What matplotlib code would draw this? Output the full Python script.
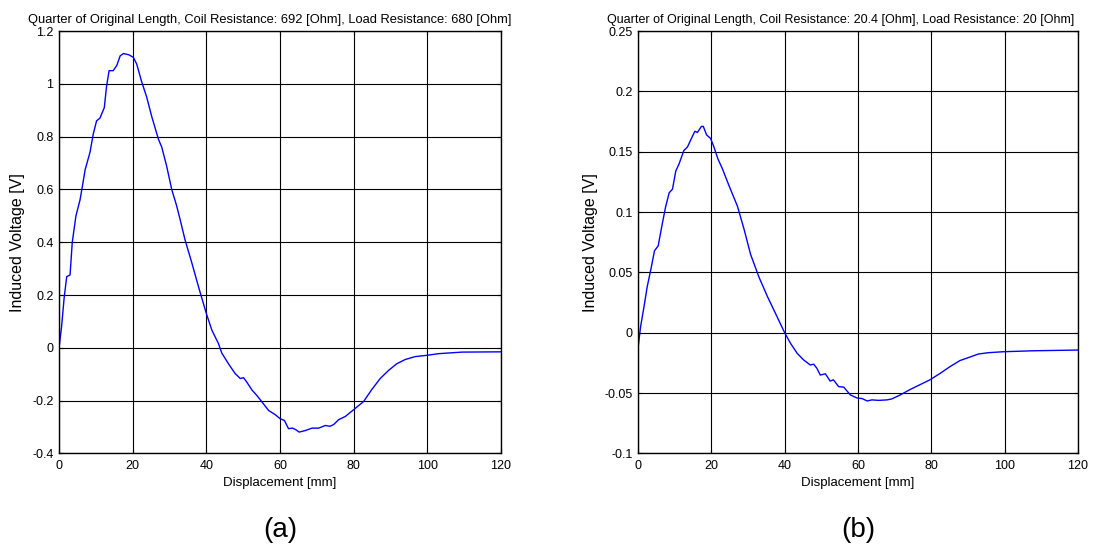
import matplotlib
matplotlib.use("Agg")
import matplotlib.pyplot as plt
from matplotlib.ticker import FuncFormatter

plt.rcParams["font.family"] = ["Liberation Sans", "DejaVu Sans"]
plt.rcParams["axes.unicode_minus"] = False

# Panel (a): 692 Ohm coil, 680 Ohm load
disp_a = [0, 0.7, 1.4, 2.1, 3.0, 3.6, 3.9, 4.6, 5.7, 6.2, 7.1, 8.4, 9.3, 10.2, 11.1,
          12.3, 12.9, 13.6, 14.7, 15.7, 16.6, 17.5, 19.0, 20.2, 21.1, 22.4, 23.8,
          25.2, 27.0, 27.9, 29.2, 30.6, 31.9, 32.9, 34.2, 36.1, 37.9, 40.0, 41.5,
          43.3, 44.2, 46.0, 47.8, 49.2, 50.1, 51.0, 52.4, 53.7, 55.1, 56.9, 58.7,
          60.0, 61.2, 62.3, 63.4, 64.3, 65.2, 66.9, 68.7, 70.5, 72.3, 73.6, 74.6,
          75.9, 77.7, 80.0, 82.7, 84.9, 87.2, 89.5, 91.7, 94.0, 96.7, 100.0, 103.0,
          109.4, 120.0]
volt_a = [0, 0.08, 0.19, 0.27, 0.276, 0.40, 0.43, 0.50, 0.56, 0.60, 0.675, 0.74, 0.81,
          0.86, 0.87, 0.91, 0.99, 1.05, 1.05, 1.07, 1.106, 1.115, 1.11, 1.10, 1.075,
          1.01, 0.95, 0.875, 0.79, 0.76, 0.69, 0.60, 0.54, 0.485, 0.41, 0.32, 0.23,
          0.13, 0.067, 0.016, -0.02, -0.06, -0.097, -0.116, -0.113, -0.13, -0.16,
          -0.18, -0.205, -0.237, -0.253, -0.268, -0.275, -0.306, -0.304, -0.31,
          -0.319, -0.313, -0.304, -0.304, -0.294, -0.297, -0.29, -0.272, -0.26,
          -0.234, -0.203, -0.158, -0.116, -0.085, -0.06, -0.044, -0.033, -0.028,
          -0.022, -0.016, -0.015]

# Panel (b): 20.4 Ohm coil, 20 Ohm load
disp_b = [0, 0.5, 0.7, 1.6, 2.5, 3.6, 4.5, 5.5, 6.6, 7.5, 8.5, 9.4, 10.3, 11.2, 12.5,
          13.5, 14.4, 15.5, 16.2, 17.3, 17.8, 18.7, 19.8, 20.7, 21.8, 23.0, 24.8,
          27.1, 28.9, 30.7, 33.0, 35.3, 37.5, 40.0, 41.6, 43.4, 45.2, 47.0, 47.9,
          48.8, 49.7, 51.1, 52.4, 53.3, 54.7, 56.1, 57.9, 59.7, 61.1, 62.5, 63.8,
          65.6, 67.9, 69.2, 71.5, 74.2, 76.9, 79.6, 82.4, 85.1, 87.8, 90.6, 92.8,
          95.5, 99.6, 107.8, 120.0]
volt_b = [-0.013, 0.0, 0.005, 0.021, 0.038, 0.054, 0.068, 0.072, 0.09, 0.104, 0.116,
          0.119, 0.134, 0.14, 0.151, 0.154, 0.16, 0.167, 0.166, 0.171, 0.171, 0.164,
          0.161, 0.154, 0.144, 0.136, 0.122, 0.105, 0.086, 0.065, 0.046, 0.030,
          0.016, 0.0, -0.0088, -0.017, -0.0226, -0.0267, -0.026, -0.0295, -0.035,
          -0.034, -0.040, -0.039, -0.0446, -0.045, -0.0515, -0.054, -0.0545,
          -0.0565, -0.0556, -0.056, -0.0556, -0.0548, -0.0515, -0.047, -0.043,
          -0.039, -0.0336, -0.028, -0.023, -0.020, -0.0176, -0.0165, -0.0157,
          -0.0149, -0.0143]

xticks = [0, 20, 40, 60, 80, 100, 120]
yticks_a = [-0.4, -0.2, 0, 0.2, 0.4, 0.6, 0.8, 1.0, 1.2]
yticks_b = [-0.1, -0.05, 0, 0.05, 0.1, 0.15, 0.2, 0.25]

title_a = "Quarter of Original Length, Coil Resistance: 692 [Ohm], Load Resistance: 680 [Ohm]"
title_b = "Quarter of Original Length, Coil Resistance: 20.4 [Ohm], Load Resistance: 20 [Ohm]"

fig = plt.figure(figsize=(11.09, 5.5), dpi=100)
ax_a = fig.add_axes([0.0532, 0.1755, 0.3986, 0.768])
ax_b = fig.add_axes([0.5753, 0.1755, 0.3968, 0.768])

gfmt = FuncFormatter(lambda v, p: "%g" % round(v, 4))

panels = [(ax_a, disp_a, volt_a, yticks_a, title_a, "(a)", -0.0928, 0.477, 9.3),
          (ax_b, disp_b, volt_b, yticks_b, title_b, "(b)", -0.109, 0.461, 9.0)]

for ax, x, y, yt, title, tag, ylx, tx, tsize in panels:
    ax.plot(x, y, color="#0000ff", linewidth=1.0)
    ax.set_xlim(0, 120)
    ax.set_ylim(yt[0], yt[-1])
    ax.set_xticks(xticks)
    ax.set_yticks(yt)
    ax.yaxis.set_major_formatter(gfmt)
    ax.grid(True, color="black", linewidth=0.8)
    ax.tick_params(direction="in", top=True, right=True, labelsize=9, length=3)
    ax.tick_params(axis="x", pad=5)
    ax.tick_params(axis="y", pad=4)
    for s in ax.spines.values():
        s.set_linewidth(1.0)
    ax.set_xlabel("Displacement [mm]", fontsize=9.5)
    ax.xaxis.set_label_coords(0.5, -0.055)
    ax.set_ylabel("Induced Voltage [V]", fontsize=11.5)
    ax.yaxis.set_label_coords(ylx, 0.5)
    ax.yaxis.label.set_va("center")
    ax.set_title(title, fontsize=tsize, pad=6, x=tx)
    ax.text(0.5, -0.18, tag, transform=ax.transAxes, ha="center", va="center", fontsize=20)

fig.savefig("out.png", dpi=100)
